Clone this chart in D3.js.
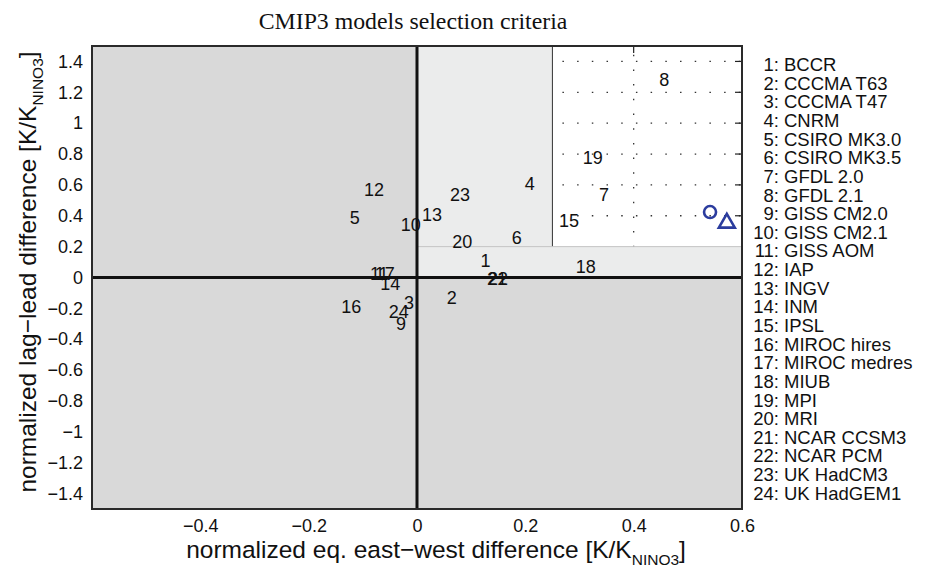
<!DOCTYPE html>
<html><head><meta charset="utf-8">
<script src="https://cdn.jsdelivr.net/npm/d3@7"></script>
<style>body{margin:0;background:#fff} svg{display:block}</style>
</head><body>
<svg id="c" width="930" height="571"></svg>
<script>
// ---- data ----
const modelIds = [1,2,3,4,5,6,7,8,9,10,11,12,13,14,15,16,17,18,19,20,21,22,23,24];
const modelNames = ["BCCR","CCCMA T63","CCCMA T47","CNRM","CSIRO MK3.0","CSIRO MK3.5","GFDL 2.0","GFDL 2.1",
  "GISS CM2.0","GISS CM2.1","GISS AOM","IAP","INGV","INM","IPSL","MIROC hires","MIROC medres","MIUB",
  "MPI","MRI","NCAR CCSM3","NCAR PCM","UK HadCM3","UK HadGEM1"];
const eastWest = [0.117,0.055,-0.024,0.199,-0.124,0.175,0.336,0.447,-0.039,-0.030,-0.087,-0.098,
  0.009,-0.068,0.262,-0.140,-0.078,0.293,0.306,0.065,0.129,0.131,0.061,-0.052];
const lagLead = [0.112,-0.128,-0.160,0.606,0.390,0.260,0.540,1.280,-0.297,0.346,0.028,0.573,
  0.410,-0.037,0.372,-0.186,0.028,0.073,0.780,0.230,-0.005,-0.005,0.540,-0.220];
const obsX = [0.541, 0.572];
const obsY = [0.424, 0.353];
const obsShape = ["circle", "triangle"];
const xTickValues = [-0.4,-0.2,0,0.2,0.4,0.6];
const yTickValues = [-1.4,-1.2,-1,-0.8,-0.6,-0.4,-0.2,0,0.2,0.4,0.6,0.8,1,1.2,1.4];
const xLimits = [-0.6, 0.6];
const yLimits = [-1.5, 1.5];
const ewThreshold = 0.25;   // east-west criterion
const llThreshold = 0.2;    // lag-lead criterion

// ---- setup ----
const svg = d3.select("#c");
const x = d3.scaleLinear().domain(xLimits).range([92, 742]);
const y = d3.scaleLinear().domain(yLimits).range([509, 46]);
const sans = "'Liberation Sans', Arial, Helvetica, sans-serif";
const fmt = d => String(+d.toFixed(1)).replace("-", "\u2212");

// background regions
svg.append("rect").attr("x", x(xLimits[0])).attr("y", y(yLimits[1]))
  .attr("width", x(xLimits[1]) - x(xLimits[0])).attr("height", y(yLimits[0]) - y(yLimits[1]))
  .attr("fill", "#d9d9d9");
svg.append("rect").attr("x", x(0)).attr("y", y(yLimits[1]))
  .attr("width", x(xLimits[1]) - x(0)).attr("height", y(0) - y(yLimits[1]))
  .attr("fill", "#ebecec");
svg.append("rect").attr("x", x(ewThreshold)).attr("y", y(yLimits[1]))
  .attr("width", x(xLimits[1]) - x(ewThreshold)).attr("height", y(llThreshold) - y(yLimits[1]))
  .attr("fill", "#ffffff");

// dotted grid (only visible in the white region)
const gridH = yTickValues.filter(t => t > llThreshold);
svg.append("g").selectAll("line").data(gridH).join("line")
  .attr("x1", x(ewThreshold)).attr("x2", x(xLimits[1]))
  .attr("y1", d => y(d)).attr("y2", d => y(d))
  .attr("stroke", "#333").attr("stroke-width", 1.3)
  .attr("stroke-dasharray", "1.5 13.2").attr("stroke-dashoffset", 4.7);
const gridV = xTickValues.filter(t => t > ewThreshold && t < xLimits[1]);
svg.append("g").selectAll("line").data(gridV).join("line")
  .attr("x1", d => x(d)).attr("x2", d => x(d))
  .attr("y1", y(yLimits[1])).attr("y2", y(llThreshold))
  .attr("stroke", "#333").attr("stroke-width", 1.3)
  .attr("stroke-dasharray", "1.5 13.2").attr("stroke-dashoffset", 6);
// inward ticks in the white region
svg.append("g").selectAll("line").data(gridH).join("line")
  .attr("x1", x(xLimits[1]) - 7).attr("x2", x(xLimits[1]))
  .attr("y1", d => y(d)).attr("y2", d => y(d))
  .attr("stroke", "#222").attr("stroke-width", 1.2);
svg.append("g").selectAll("line").data(gridV).join("line")
  .attr("x1", d => x(d)).attr("x2", d => x(d))
  .attr("y1", y(yLimits[1])).attr("y2", y(yLimits[1]) + 7)
  .attr("stroke", "#222").attr("stroke-width", 1.2);

// region boundaries
svg.append("line").attr("x1", x(ewThreshold)).attr("x2", x(ewThreshold))
  .attr("y1", y(yLimits[1])).attr("y2", y(llThreshold))
  .attr("stroke", "#333").attr("stroke-width", 1);
svg.append("line").attr("x1", x(0)).attr("x2", x(xLimits[1]))
  .attr("y1", y(llThreshold)).attr("y2", y(llThreshold))
  .attr("stroke", "#c4c4c4").attr("stroke-width", 1);

// zero lines
svg.append("line").attr("x1", x(xLimits[0])).attr("x2", x(xLimits[1]))
  .attr("y1", y(0)).attr("y2", y(0)).attr("stroke", "#111").attr("stroke-width", 3);
svg.append("line").attr("x1", x(0)).attr("x2", x(0))
  .attr("y1", y(yLimits[0])).attr("y2", y(yLimits[1])).attr("stroke", "#111").attr("stroke-width", 3);

// axes frame
svg.append("rect").attr("x", x(xLimits[0])).attr("y", y(yLimits[1]))
  .attr("width", x(xLimits[1]) - x(xLimits[0])).attr("height", y(yLimits[0]) - y(yLimits[1]))
  .attr("fill", "none").attr("stroke", "#2a2a2a").attr("stroke-width", 2);

// tick labels via d3 axes
const gx = svg.append("g").attr("transform", `translate(0,${y(yLimits[0])})`)
  .call(d3.axisBottom(x).tickValues(xTickValues).tickSize(0).tickPadding(10).tickFormat(fmt));
const gy = svg.append("g").attr("transform", `translate(${x(xLimits[0])},0)`)
  .call(d3.axisLeft(y).tickValues(yTickValues).tickSize(0).tickPadding(9).tickFormat(fmt));
[gx, gy].forEach(g => {
  g.select(".domain").remove();
  g.selectAll("text").attr("font-family", sans).attr("font-size", 18).attr("fill", "#111");
});

// model number labels
svg.append("g").selectAll("text").data(modelIds).join("text")
  .attr("x", (d, i) => x(eastWest[i])).attr("y", (d, i) => y(lagLead[i]))
  .attr("dy", "0.36em")
  .attr("font-family", sans).attr("font-size", 18).attr("fill", "#111")
  .text(d => d);

// observation markers
const blue = "#2b3c9e";
const obs = svg.append("g");
obsShape.forEach((s, i) => {
  if (s === "circle") {
    obs.append("circle").attr("cx", x(obsX[i])).attr("cy", y(obsY[i])).attr("r", 6)
      .attr("fill", "none").attr("stroke", blue).attr("stroke-width", 2.6);
  } else {
    obs.append("path").attr("transform", `translate(${x(obsX[i])},${y(obsY[i])})`)
      .attr("d", d3.symbol(d3.symbolTriangle, 110)())
      .attr("fill", "none").attr("stroke", blue).attr("stroke-width", 2.6);
  }
});

// title
svg.append("text").attr("x", 413).attr("y", 29).attr("text-anchor", "middle")
  .attr("font-family", "'Liberation Serif', 'Times New Roman', serif").attr("font-size", 23.8)
  .attr("fill", "#111").text("CMIP3 models selection criteria");

// axis labels
const xl = svg.append("text").attr("x", 436).attr("y", 558).attr("text-anchor", "middle")
  .attr("font-family", sans).attr("font-size", 24.5).attr("fill", "#111");
xl.append("tspan").text("normalized eq. east\u2212west difference [K/K");
xl.append("tspan").attr("font-size", 15.5).attr("dy", 7).text("NINO3");
xl.append("tspan").attr("dy", -7).text("]");

const yl = svg.append("text").attr("transform", "translate(36,272) rotate(-90)")
  .attr("text-anchor", "middle")
  .attr("font-family", sans).attr("font-size", 24.5).attr("fill", "#111");
yl.append("tspan").text("normalized lag\u2212lead difference [K/K");
yl.append("tspan").attr("font-size", 15.5).attr("dy", 7).text("NINO3");
yl.append("tspan").attr("dy", -7).text("]");

// legend (model list)
const ly = d3.scaleLinear().domain([0, modelIds.length - 1]).range([64.5, 493]);
const leg = svg.append("g").attr("font-family", sans).attr("font-size", 18.5).attr("fill", "#111");
leg.selectAll("text.num").data(modelIds).join("text").attr("class", "num")
  .attr("x", 779).attr("y", (d, i) => ly(i)).attr("dy", "0.36em").attr("text-anchor", "end")
  .text(d => d + ":");
leg.selectAll("text.name").data(modelNames).join("text").attr("class", "name")
  .attr("x", 784).attr("y", (d, i) => ly(i)).attr("dy", "0.36em")
  .text(d => d);
</script>
</body></html>
